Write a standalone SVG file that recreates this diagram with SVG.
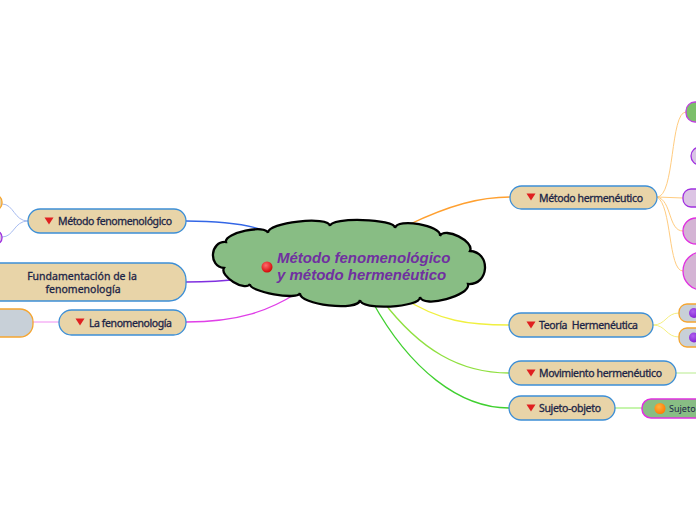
<svg xmlns="http://www.w3.org/2000/svg" width="696" height="520" viewBox="0 0 696 520">
<defs>
<radialGradient id="gRed" cx="0.4" cy="0.35" r="0.7"><stop offset="0" stop-color="#FF6B6B"/><stop offset="1" stop-color="#D00000"/></radialGradient>
<radialGradient id="gOr" cx="0.4" cy="0.35" r="0.7"><stop offset="0" stop-color="#FFB040"/><stop offset="1" stop-color="#FF7A00"/></radialGradient>
<radialGradient id="gPu" cx="0.4" cy="0.35" r="0.7"><stop offset="0" stop-color="#B060F0"/><stop offset="1" stop-color="#8020D0"/></radialGradient>
<style>
.topic{fill:#E8D4A8;stroke:#3D8FD6;stroke-width:1.3}
.lbl{font-family:"Noto Sans","Liberation Sans",sans-serif;font-size:10.5px;fill:#1C2547;stroke:#1C2547;stroke-width:0.3px}
.tri{fill:#E02020}
.c{fill:none}
</style>
</defs>
<rect width="696" height="520" fill="#FFFFFF"/>
<g id="connectors">
<path class="c" d="M186,221 C230,221 255,226 272,233" stroke="#3366E6" stroke-width="1.3"/>
<path class="c" d="M186,282 C210,282 225,281 240,279" stroke="#8030E0" stroke-width="1.3"/>
<path class="c" d="M186,322 C240,322 270,310 297,293" stroke="#E040E8" stroke-width="1.3"/>
<path class="c" d="M408,225 C450,205 480,197 510,197" stroke="#FFA030" stroke-width="1.3"/>
<path class="c" d="M400,296 C440,322 470,325 509,325" stroke="#F0F040" stroke-width="1.3"/>
<path class="c" d="M382,300 C420,350 460,373 509,373" stroke="#90E040" stroke-width="1.3"/>
<path class="c" d="M372,301 C410,370 460,408 509,408" stroke="#40D030" stroke-width="1.3"/>
<g stroke="#FFCC80" stroke-width="1" fill="none">
<path d="M657,197 C675,197 670,112 686,112"/>
<path d="M657,197 L683,198"/>
<path d="M657,197 C672,200 668,231 683,231"/>
<path d="M657,197 C672,205 668,271 683,271"/>
</g>
<g stroke="#F6F080" stroke-width="1" fill="none">
<path d="M653,325 C666,325 666,313 679,313"/>
<path d="M653,325 C666,325 666,337 679,337"/>
</g>
<path d="M676,373 L696,373" stroke="#C8F0A8" stroke-width="1.3" fill="none"/>
<path d="M615,408 L642,408" stroke="#A8F080" stroke-width="1.3" fill="none"/>
<path d="M33,322 L59,322" stroke="#F4A8F4" stroke-width="1.3" fill="none"/>
<g stroke="#A8BCF0" stroke-width="1" fill="none">
<path d="M28,221 C14,221 14,204 2,204"/>
<path d="M28,221 C14,221 14,237 2,237"/>
</g>
</g>
<g id="central">
<path d="M226,242 C224,232.9 266,223.9 268,233 C266.8,222.4 328.8,215.4 330,226 C330.3,216.7 395.3,218.7 395,228 C396.9,217.5 441.9,225.5 440,236 C444.8,226.5 474.8,241.5 470,251 C491.3,252.3 489.3,285.3 468,284 C471.1,295.6 423.1,308.6 420,297 C420.5,307.7 360.5,310.7 360,300 C358.6,311.9 298.6,304.9 300,293 C298.6,300.8 248.6,291.8 250,284 C245.1,291.9 219.1,275.9 224,268 C208,266.7 210,240.7 226,242 Z" fill="#88BD84" stroke="#000000" stroke-width="2.3"/>
<circle cx="267" cy="267" r="5.5" fill="url(#gRed)"/>
<text x="277" y="263" font-family="'Liberation Sans',Arial,sans-serif" font-size="15" font-weight="bold" font-style="italic" fill="#7030A0">Método fenomenológico</text>
<text x="277" y="280" font-family="'Liberation Sans',Arial,sans-serif" font-size="15" font-weight="bold" font-style="italic" fill="#7030A0">y método hermenéutico</text>
</g>
<g id="n-metodo-herm">
<rect class="topic" x="510" y="186" width="147" height="23" rx="11.5"/>
<polygon class="tri" points="526.5,193.5 535.5,193.5 531,200.5"/>
<text class="lbl" x="539" y="201.5" textLength="104">Método hermenéutico</text>
</g>
<g id="n-teoria">
<rect class="topic" x="509" y="313" width="144" height="24" rx="12"/>
<polygon class="tri" points="526.5,321.5 535.5,321.5 531,328.5"/>
<text class="lbl" x="539" y="329" textLength="99" xml:space="preserve">Teoría  Hermenéutica</text>
</g>
<g id="n-movimiento">
<rect class="topic" x="509" y="361" width="167" height="24" rx="12"/>
<polygon class="tri" points="526.5,369.5 535.5,369.5 531,376.5"/>
<text class="lbl" x="539" y="377" textLength="123">Movimiento hermenéutico</text>
</g>
<g id="n-sujeto-objeto">
<rect class="topic" x="509" y="396" width="106" height="24" rx="12"/>
<polygon class="tri" points="526.5,404.5 535.5,404.5 531,411.5"/>
<text class="lbl" x="539" y="412" textLength="62">Sujeto-objeto</text>
</g>
<g id="n-metodo-fen">
<rect class="topic" x="28" y="209" width="158" height="24" rx="12"/>
<polygon class="tri" points="44.5,217.5 53.5,217.5 49,224.5"/>
<text class="lbl" x="58" y="225" textLength="114">Método fenomenológico</text>
</g>
<g id="n-fundamentacion">
<rect class="topic" x="-20" y="263" width="206" height="38" rx="17"/>
<text class="lbl" x="82" y="280" text-anchor="middle">Fundamentación de la</text>
<text class="lbl" x="83" y="293" text-anchor="middle">fenomenología</text>
</g>
<g id="n-la-fen">
<rect class="topic" x="59" y="310" width="127" height="25" rx="12.5"/>
<polygon class="tri" points="75.5,318.5 84.5,318.5 80,325.5"/>
<text class="lbl" x="89" y="326.5" textLength="83">La fenomenología</text>
</g>
<g id="n-grey-left">
<rect x="-30" y="309" width="63" height="28" rx="13" fill="#C8D0D8" stroke="#F5A530" stroke-width="1.3"/>
</g>
<g id="n-left-a">
<rect x="-30" y="195" width="32" height="15" rx="7" fill="#E8D4A8" stroke="#F5A530" stroke-width="1.3"/>
</g>
<g id="n-left-b">
<rect x="-30" y="231" width="32" height="13" rx="6" fill="#D8C4E4" stroke="#A030E0" stroke-width="1.3"/>
</g>
<g id="n-r1">
<rect x="686" y="102" width="40" height="20" rx="9" fill="#7CBF6A" stroke="#C040E0" stroke-width="1.3"/>
</g>
<g id="n-r2">
<rect x="691" y="147" width="40" height="18" rx="9" fill="#D8C4E4" stroke="#A030E0" stroke-width="1.3"/>
</g>
<g id="n-r3">
<rect x="683" y="189" width="40" height="18" rx="8" fill="#DCC4E4" stroke="#A030E0" stroke-width="1.3"/>
</g>
<g id="n-r4">
<rect x="683" y="218" width="40" height="26" rx="13" fill="#D4B4D4" stroke="#E030E0" stroke-width="1.3"/>
</g>
<g id="n-r5">
<rect x="683" y="252" width="40" height="38" rx="19" fill="#D4B4D4" stroke="#E030E0" stroke-width="1.3"/>
</g>
<g id="n-t1">
<rect x="679" y="304" width="40" height="18" rx="8" fill="#C8D0D8" stroke="#F5A530" stroke-width="1.3"/>
<circle cx="694" cy="313" r="5" fill="url(#gPu)"/>
</g>
<g id="n-t2">
<rect x="679" y="328" width="40" height="19" rx="8" fill="#C8D0D8" stroke="#F5A530" stroke-width="1.3"/>
<circle cx="694" cy="337.5" r="5" fill="url(#gPu)"/>
</g>
<g id="n-sujeto">
<rect x="642" y="399" width="80" height="19" rx="9" fill="#88BD84" stroke="#E030E0" stroke-width="1.5"/>
<circle cx="660" cy="408.5" r="5.5" fill="url(#gOr)"/>
<text x="669" y="412" font-family="'Noto Sans','Liberation Sans',sans-serif" font-size="9" fill="#1C2547">Sujeto</text>
</g>
</svg>
